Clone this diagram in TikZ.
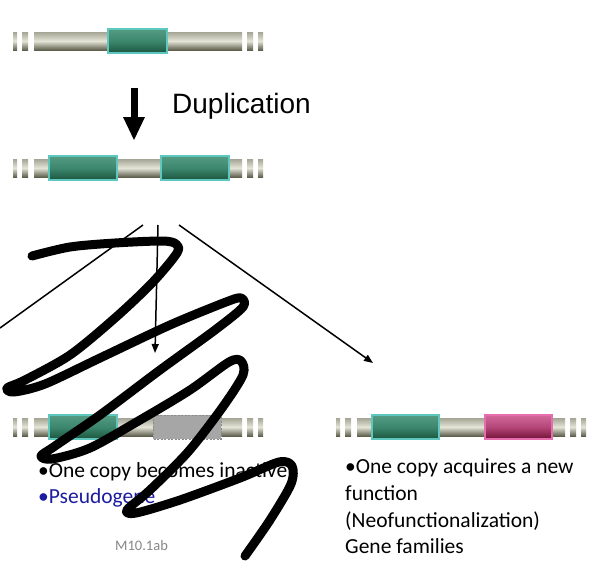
\documentclass[tikz,border=0pt]{standalone}
\usepackage{fontspec}
\setmainfont{Carlito}
\newfontfamily\arialf{Liberation Sans}
\usetikzlibrary{arrows.meta}
\definecolor{barTop}{RGB}{165,165,150}
\definecolor{barMid}{RGB}{228,228,215}
\definecolor{barBot}{RGB}{95,95,78}
\definecolor{gTop}{RGB}{85,155,132}
\definecolor{gMid}{RGB}{60,135,110}
\definecolor{gBot}{RGB}{28,85,62}
\definecolor{gEdge}{RGB}{95,200,190}
\definecolor{pTop}{RGB}{210,105,155}
\definecolor{pMid}{RGB}{180,70,120}
\definecolor{pBot}{RGB}{115,18,55}
\definecolor{pEdge}{RGB}{230,110,175}
\definecolor{greyBox}{RGB}{166,166,166}
\definecolor{greyEdge}{RGB}{140,140,140}
\definecolor{pseudoBlue}{RGB}{28,28,160}
\definecolor{labelGrey}{RGB}{135,135,135}
\tikzset{
  barpart/.style={top color=barTop, bottom color=barBot, middle color=barMid, draw=none},
  greenbox/.style={top color=gTop, bottom color=gBot, middle color=gMid, draw=gEdge, line width=1.2pt},
  pinkbox/.style={top color=pTop, bottom color=pBot, middle color=pMid, draw=pEdge, line width=1.2pt},
  greybox/.style={fill=greyBox, draw=greyEdge, line width=0.8pt, dash pattern=on 2pt off 1.5pt},
  conn/.style={line width=1.5pt, draw=black},
  conntip/.style={conn, -{Triangle[length=9pt,width=7pt]}},
  bodytext/.style={inner sep=0pt, anchor=base west, font=\fontsize{21.5}{26}\selectfont},
  scribble/.style={line width=9pt, line cap=round, line join=round, draw=black}
}
% chromosome backbone: #1 x offset, #2 y centre
\newcommand\chromoBar[2]{%
  \fill[barpart] ({#1+13},{#2-9}) rectangle ({#1+17},{#2+9});
  \fill[barpart] ({#1+22},{#2-9}) rectangle ({#1+28},{#2+9});
  \fill[barpart] ({#1+34},{#2-9}) rectangle ({#1+242},{#2+9});
  \fill[barpart] ({#1+247},{#2-9}) rectangle ({#1+253},{#2+9});
  \fill[barpart] ({#1+258},{#2-9}) rectangle ({#1+263},{#2+9});
}
\begin{document}
\begin{tikzpicture}[x=1pt,y=-1pt]
\useasboundingbox[fill=white] (0,0) rectangle (610,570);

% row 1
\chromoBar{0}{41}
\draw[greenbox] (108,29) rectangle (167,53);

% duplication arrow
\coordinate (dupA) at (134,88);
\coordinate (dupB) at (134,140);
\draw[line width=7pt] (dupA) -- ([yshift=20pt]dupB);
\fill (dupB) -- ++(-11,-23) -- ++(22,0) -- cycle;
\node[inner sep=0pt, anchor=base west, font=\arialf\fontsize{28}{30}\selectfont] (duplabel) at (172,113) {Duplication};

% row 2
\chromoBar{0}{168}
\draw[greenbox] (49,156) rectangle (117,180);
\draw[greenbox] (161,156) rectangle (229,180);

% connectors
\coordinate (s1) at (143,225);
\coordinate (e1) at (0,328);
\coordinate (s2) at (158,225);
\coordinate (e2) at (155,353);
\coordinate (s3) at (179,225);
\coordinate (e3) at (373,363);
\draw[conn] (s1) -- (e1);
\draw[conntip] (s2) -- (e2);
\draw[conntip] (s3) -- (e3);

% row 3 left (pseudogene)
\chromoBar{0}{427}
\draw[greenbox] (49,415) rectangle (117,439);
\draw[greybox] (153,415) rectangle (221,439);

% row 3 right (neofunctionalization)
\chromoBar{323}{427}
\draw[greenbox] (372,415) rectangle (439,439);
\draw[pinkbox] (485,415) rectangle (552,439);

% texts
\node[bodytext] (l1) at (38,477) {•One copy becomes inactive};
\node[bodytext, text=pseudoBlue] (l2) at (38,503) {•Pseudogene};
\node[bodytext] (r1) at (345,473) {•One copy acquires a new};
\node[bodytext] (r2) at (345,500) {function};
\node[bodytext] (r3) at (345,527) {(Neofunctionalization)};
\node[bodytext] (r4) at (345,553) {Gene families};
\node[inner sep=0pt, anchor=base west, text=labelGrey, font=\fontsize{14.5}{16}\selectfont] (m10) at (115,550) {M10.1ab};

% scribble over everything
\draw[scribble] plot[smooth, tension=0.5] coordinates {
  (32,256) (70,247) (115,243) (162,241) (176,244) (177,253)
  (152,283) (115,318) (70,355) (25,380) (7,388) (14,392)
  (45,384) (100,358) (170,325) (226,302) (241,298) (243,307)
  (215,330) (160,370) (100,415) (55,446) (41,456) (52,459)
  (90,448) (140,420) (190,390) (229,362) (241,361) (243,375)
  (222,408) (188,452) (150,490) (127,510) (136,513)
  (180,500) (240,478) (279,462) (292,466) (291,484)
  (270,520) (245,556)};
\end{tikzpicture}
\end{document}
